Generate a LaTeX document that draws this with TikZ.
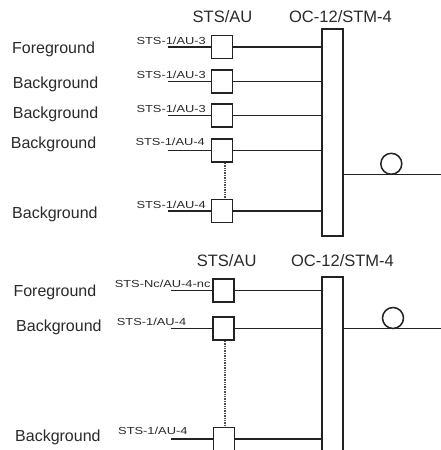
\documentclass[tikz,border=0pt]{standalone}
\usepackage{fontspec}
\setmainfont{Liberation Sans}
\newfontfamily\widefont[FakeStretch=1.26]{Liberation Sans}
\definecolor{linec}{HTML}{222222}
\definecolor{textc}{HTML}{2A2A2A}
\begin{document}
\begin{tikzpicture}[x=1pt,y=-1pt,
  unitbox/.style={draw=linec, fill=white, line width=1.6pt, minimum width=21pt, minimum height=23pt, inner sep=0pt},
  barbox/.style={draw=linec, fill=white, line width=1.6pt, minimum width=21pt, inner sep=0pt},
  wire/.style={draw=linec, line width=1.5pt},
  dotline/.style={draw=linec!80, line width=1.2pt, dash pattern=on 1.3pt off 1.1pt},
  lbl/.style={font=\fontsize{16}{18}\selectfont, text=textc, anchor=base west, inner sep=0pt},
  hdr/.style={font=\fontsize{16.5}{18}\selectfont, text=textc, anchor=base, inner sep=0pt},
  sme/.style={font=\widefont\fontsize{10.2}{12}\selectfont, text=textc, anchor=base east, inner sep=0pt},
  smw/.style={font=\widefont\fontsize{10.2}{12}\selectfont, text=textc, anchor=base west, inner sep=0pt},
  ring/.style={draw=linec, line width=1.5pt, circle, minimum size=21pt, inner sep=0pt}]
\clip (0,0) rectangle (441,450);
\fill[white] (0,0) rectangle (441,450);

% ---------------- top panel ----------------
\node[hdr] (th1) at (222.5,22.7) {STS/AU};
\node[hdr] (th2) at (340.5,22.7) {OC-12/STM-4};
\node[barbox, minimum height=207pt] (tbar) at (332.5,132.5) {};

\node[unitbox] (t1) at (222,47) {};
\node[unitbox] (t2) at (222,81.7) {};
\node[unitbox] (t3) at (222,115.5) {};
\node[unitbox] (t4) at (222,150.5) {};
\node[unitbox] (t5) at (222,211) {};

\foreach \n in {t1,t2,t3,t4,t5}{
  \draw[wire] (\n.east) -- (\n.east -| tbar.west);
  \coordinate (\n in) at ([xshift=-43pt]\n.west);
  \draw[wire] (\n in) -- (\n.west);
}
\draw[dotline] ([xshift=3pt]t4.south) -- ([xshift=3pt]t4.south |- t5.north);

\node[sme] (ts1) at (206,44) {STS-1/AU-3};
\node[sme] (ts2) at (206,78.5) {STS-1/AU-3};
\node[sme] (ts3) at (206,112.3) {STS-1/AU-3};
\node[sme] (ts4) at (205,145) {STS-1/AU-4};
\node[sme] (ts5) at (206,208) {STS-1/AU-4};

\node[lbl] (tl1) at (12,53) {Foreground};
\node[lbl] (tl2) at (12.7,88) {Background};
\node[lbl] (tl3) at (12.7,118.3) {Background};
\node[lbl] (tl4) at (10.7,148.3) {Background};
\node[lbl] (tl5) at (12,218.3) {Background};

\coordinate (tout) at (445,174.3);
\draw[wire] (tbar.east |- tout) -- (tout);
\node[ring] (tring) at (391.3,163.8) {};

% ---------------- bottom panel ----------------
\node[hdr] (bh1) at (226.7,266) {STS/AU};
\node[hdr] (bh2) at (342.5,266) {OC-12/STM-4};
\node[barbox, minimum height=186pt] (bbar) at (332.5,370) {};

\node[unitbox] (b1) at (223.5,290.5) {};
\node[unitbox] (b2) at (223.5,328.5) {};
\node[unitbox] (b3) at (224,439) {};

\foreach \n in {b1,b2,b3}{
  \draw[wire] (\n.east) -- (\n.east -| bbar.west);
  \coordinate (\n in) at ([xshift=-41.5pt]\n.west);
  \draw[wire] (\n in) -- (\n.west);
}
\draw[dotline] ([xshift=1.5pt]b2.south) -- ([xshift=1.5pt]b2.south |- b3.north);

\node[sme] (bs1) at (210.7,287) {STS-Nc/AU-4-nc};
\node[smw] (bs2) at (116.7,325.5) {STS-1/AU-4};
\node[smw] (bs3) at (118,434.5) {STS-1/AU-4};

\node[lbl] (bl1) at (13.3,296.7) {Foreground};
\node[lbl] (bl2) at (16,331.7) {Background};
\node[lbl] (bl3) at (15,441.7) {Background};

\coordinate (bout) at (445,328.7);
\draw[wire] (bbar.east |- bout) -- (bout);
\node[ring] (bring) at (393,318) {};
\end{tikzpicture}
\end{document}
